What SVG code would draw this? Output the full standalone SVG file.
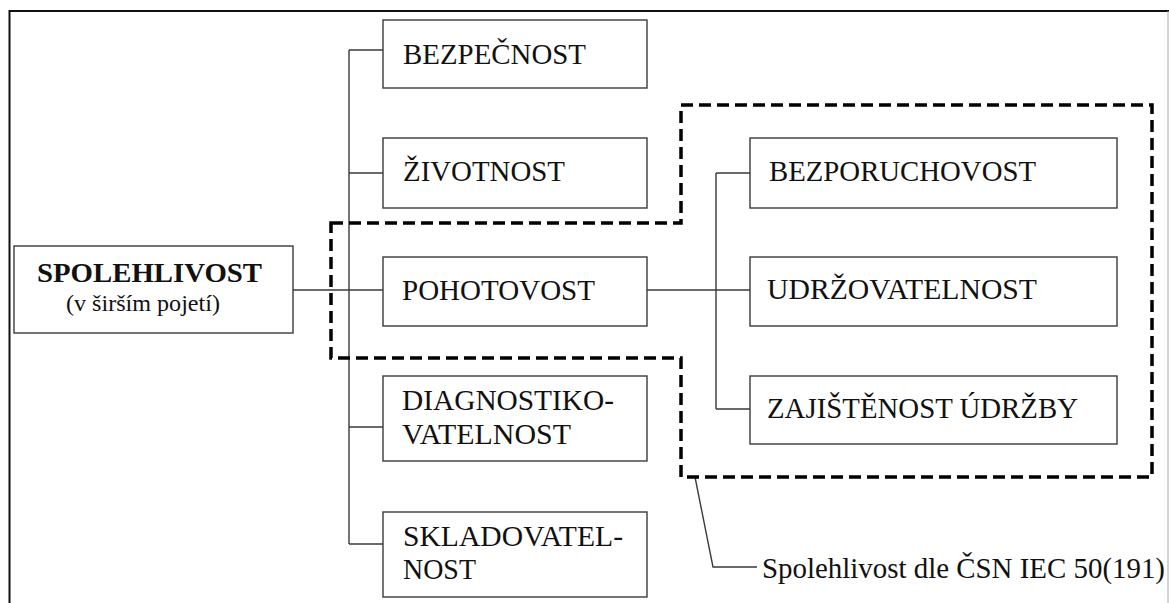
<svg xmlns="http://www.w3.org/2000/svg" width="1169" height="603" viewBox="0 0 1169 603">
<style>
.box{fill:#fff;stroke:#3a3a3a;stroke-width:1.4}
.t{font-family:'Liberation Serif','Tinos','DejaVu Serif',serif;font-size:28.5px;fill:#111}
.b{font-weight:bold;font-size:27.5px}
.s{font-size:24px}
.c{fill:none;stroke:#3a3a3a;stroke-width:1.4}
.dash{fill:none;stroke:#000;stroke-width:3.5;stroke-dasharray:12 6}
</style>
<rect width="1169" height="603" fill="#fff"/>
<g id="frame">
<path d="M9.5,603 V11 H1169" fill="none" stroke="#111" stroke-width="2"/>
<line x1="1168" y1="11" x2="1168" y2="603" stroke="#aaa" stroke-width="1"/>
</g>
<g id="connectors">
<path class="c" d="M293,290 H383"/>
<path class="c" d="M349,50 V544"/>
<path class="c" d="M349,50 H383 M349,173 H383 M349,427 H383 M349,544 H383"/>
<path class="c" d="M647,290 H750"/>
<path class="c" d="M716,173 V409 M716,173 H750 M716,409 H750"/>
<path class="c" d="M695,477 L713,567 H757"/>
</g>
<g id="boundary">
<path class="dash" d="M331,223 H681 V105 H1152 V477 H681 V358 H331 Z"/>
</g>
<g id="spolehlivost">
<rect class="box" x="14" y="246" width="279" height="87"/>
<text class="t b" x="37" y="282" textLength="225" lengthAdjust="spacingAndGlyphs">SPOLEHLIVOST</text>
<text class="t s" x="66" y="311" textLength="154" lengthAdjust="spacingAndGlyphs">(v širším pojetí)</text>
</g>
<g id="bezpecnost">
<rect class="box" x="383" y="20" width="264" height="68"/>
<text class="t" x="403" y="64" textLength="183" lengthAdjust="spacingAndGlyphs">BEZPEČNOST</text>
</g>
<g id="zivotnost">
<rect class="box" x="383" y="138" width="264" height="70"/>
<text class="t" x="403" y="181" textLength="162" lengthAdjust="spacingAndGlyphs">ŽIVOTNOST</text>
</g>
<g id="pohotovost">
<rect class="box" x="383" y="257" width="264" height="69"/>
<text class="t" x="402" y="300" textLength="193" lengthAdjust="spacingAndGlyphs">POHOTOVOST</text>
</g>
<g id="diagnostikovatelnost">
<rect class="box" x="383" y="376" width="264" height="85"/>
<text class="t" x="402" y="410" textLength="212" lengthAdjust="spacingAndGlyphs">DIAGNOSTIKO-</text>
<text class="t" x="402" y="444" textLength="169" lengthAdjust="spacingAndGlyphs">VATELNOST</text>
</g>
<g id="skladovatelnost">
<rect class="box" x="383" y="512" width="264" height="85"/>
<text class="t" x="403" y="546" textLength="220" lengthAdjust="spacingAndGlyphs">SKLADOVATEL-</text>
<text class="t" x="403" y="579" textLength="73" lengthAdjust="spacingAndGlyphs">NOST</text>
</g>
<g id="bezporuchovost">
<rect class="box" x="750" y="138" width="367" height="70"/>
<text class="t" x="769" y="181" textLength="267" lengthAdjust="spacingAndGlyphs">BEZPORUCHOVOST</text>
</g>
<g id="udrzovatelnost">
<rect class="box" x="750" y="257" width="367" height="69"/>
<text class="t" x="767" y="299" textLength="270" lengthAdjust="spacingAndGlyphs">UDRŽOVATELNOST</text>
</g>
<g id="zajistenost">
<rect class="box" x="750" y="376" width="367" height="68"/>
<text class="t" x="767" y="418" textLength="311" lengthAdjust="spacingAndGlyphs">ZAJIŠTĚNOST ÚDRŽBY</text>
</g>
<g id="caption">
<text class="t" x="762" y="578" textLength="403" lengthAdjust="spacingAndGlyphs">Spolehlivost dle ČSN IEC 50(191)</text>
</g>
</svg>
